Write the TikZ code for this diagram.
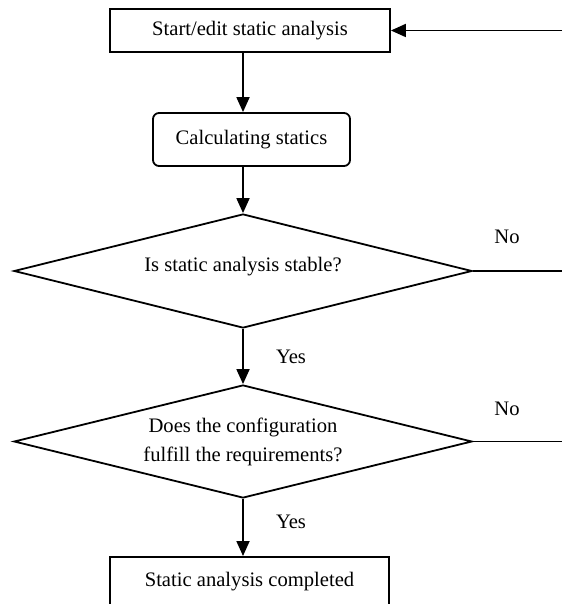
\documentclass[tikz,border=0pt]{standalone}
\usepackage{fontspec}
\setmainfont{Liberation Serif}
\usetikzlibrary{shapes.geometric,arrows.meta}
\begin{document}
\begin{tikzpicture}[x=0.5pt,y=-0.5pt,
  every node/.style={font=\fontsize{10.3}{14.5}\selectfont},
  flowbox/.style={draw, line width=0.9pt, inner sep=0pt},
  decision/.style={draw, diamond, shape aspect=4, line width=0.9pt, inner sep=0pt, align=center},
  flowline/.style={line width=0.9pt},
  flowarrow/.style={line width=0.9pt, -{Triangle[length=7.5pt,width=6.5pt]}},
  lbl/.style={inner sep=0pt}]
\clip (0,0) rectangle (562,604);
\node[flowbox, minimum width=140pt, minimum height=21.5pt] (start) at (250,30.5) {Start/edit static analysis};
\node[flowbox, rounded corners=3pt, minimum width=98.5pt, minimum height=26.5pt] (calc) at (251.5,139.5) {Calculating statics};
\node[decision, minimum width=229pt, minimum height=57pt, text depth=7pt] (d1) at (243,271) {Is static analysis stable?};
\node[decision, minimum width=229pt, minimum height=56.5pt] (d2) at (243,441.5) {Does the configuration\\fulfill the requirements?};
\node[flowbox, anchor=north, minimum width=139.5pt, text height=15pt, text depth=20pt] (done) at (249.5,556) {Static analysis completed};
\coordinate (inR) at (562,30.5);
\coordinate (n1) at (562,271);
\coordinate (n2) at (562,441.5);
\draw[flowarrow] (inR) -- (start.east);
\draw[flowarrow] (start.south -| d1.north) -- (calc.north -| d1.north);
\draw[flowarrow] (calc.south -| d1.north) -- (d1.north);
\draw[flowline] (d1.east) -- (n1);
\draw[flowarrow] (d1.south) -- (d2.north);
\draw[flowline] (d2.east) -- (n2);
\draw[flowarrow] (d2.south) -- (done.north -| d2.south);
\node[lbl] (no1) at (507,237) {No};
\node[lbl] (yes1) at (291,357) {Yes};
\node[lbl] (no2) at (507,409) {No};
\node[lbl] (yes2) at (291,522) {Yes};
\end{tikzpicture}
\end{document}
